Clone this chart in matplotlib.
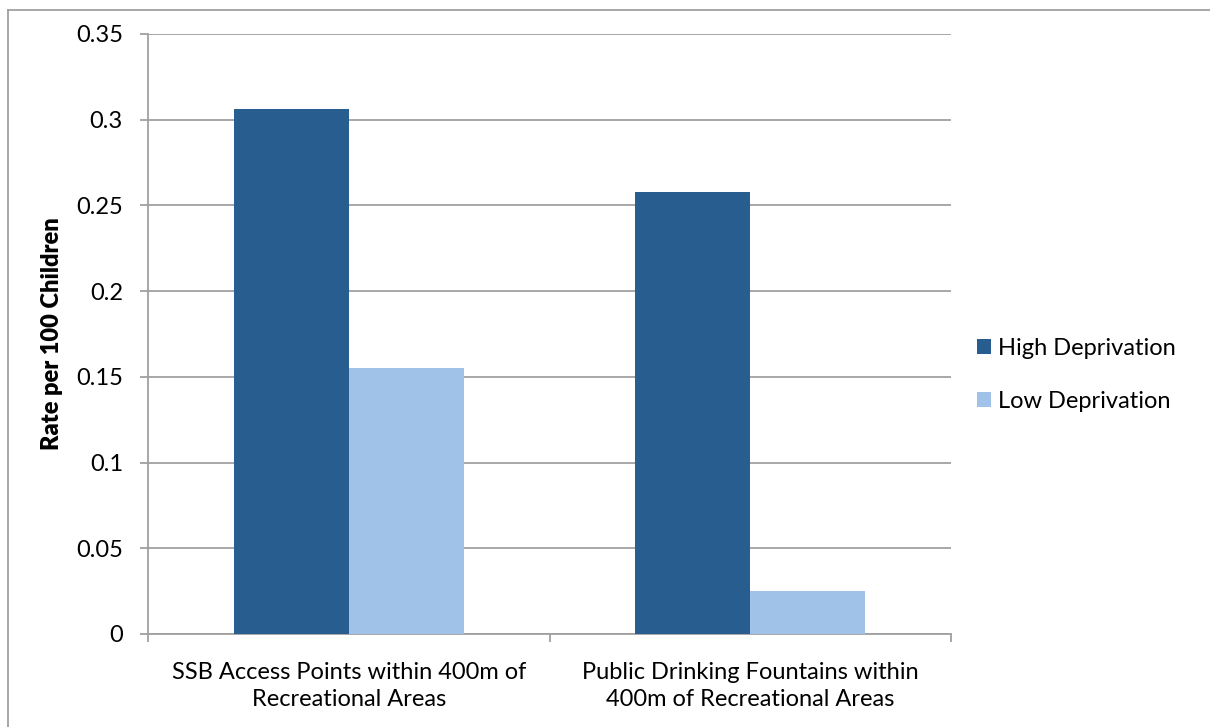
import numpy as np
import matplotlib.pyplot as plt
from matplotlib.lines import Line2D

plt.rcParams['font.family'] = ['Lato', 'DejaVu Sans']

# Dane
kategorie = ['SSB Access Points within 400m of\nRecreational Areas',
             'Public Drinking Fountains within\n400m of Recreational Areas']
serie = ['High Deprivation', 'Low Deprivation']
wysoka = [0.306, 0.258]
niska = [0.155, 0.025]
kolory = ['#275d8f', '#a0c2e8']

W, H = 1210, 727
fig = plt.figure(figsize=(W / 100, H / 100), dpi=100)
ax = fig.add_axes([148 / W, 93 / H, 803 / W, 600 / H])

szer = 0.286
x = np.arange(len(kategorie))
ax.bar(x - szer / 2, wysoka, szer, color=kolory[0], label=serie[0], zorder=3)
ax.bar(x + szer / 2, niska, szer, color=kolory[1], label=serie[1], zorder=3)

szary = '#a0a0a0'
fs = 17
ax.set_xlim(-0.5, len(kategorie) - 0.5)
ax.set_ylim(0, 0.35)
ax.set_yticks(np.arange(0, 0.351, 0.05))
ax.set_yticklabels(['0', '0.05', '0.1', '0.15', '0.2', '0.25', '0.3', '0.35'])
ax.yaxis.grid(True, color=szary, linewidth=1.3, zorder=0)
ax.set_axisbelow(True)

# etykiety kategorii pod środkiem grup, kreski na granicach
ax.set_xticks(np.arange(-0.5, len(kategorie), 1.0))
ax.set_xticklabels([])
ax.set_xticks(x, minor=True)
ax.set_xticklabels(kategorie, minor=True, fontsize=fs, linespacing=1.39)
ax.tick_params(axis='x', which='minor', length=0, pad=20)
ax.tick_params(axis='x', which='major', length=6, color=szary, width=1.3, direction='out')
ax.tick_params(axis='y', length=6, color=szary, width=1.3, direction='out', labelsize=fs, pad=12)

for s in ['top', 'right']:
    ax.spines[s].set_visible(False)
for s in ['left', 'bottom']:
    ax.spines[s].set_color(szary)
    ax.spines[s].set_linewidth(1.3)

ax.set_ylabel('Rate per 100 Children', fontsize=17, fontweight='heavy', labelpad=9)

ax.legend(loc='center left', bbox_to_anchor=(1.006, 0.432), frameon=False,
          fontsize=fs, handlelength=0.6, handleheight=0.6, handletextpad=0.3,
          labelspacing=1.38)

# ramka wokół wykresu
fig.add_artist(Line2D([8 / W, 8 / W], [0, 1 - 10 / H], color=szary, linewidth=1.3,
                      transform=fig.transFigure))
fig.add_artist(Line2D([8 / W, 1], [1 - 10 / H, 1 - 10 / H], color=szary, linewidth=1.3,
                      transform=fig.transFigure))

fig.savefig('out.png', dpi=100)
